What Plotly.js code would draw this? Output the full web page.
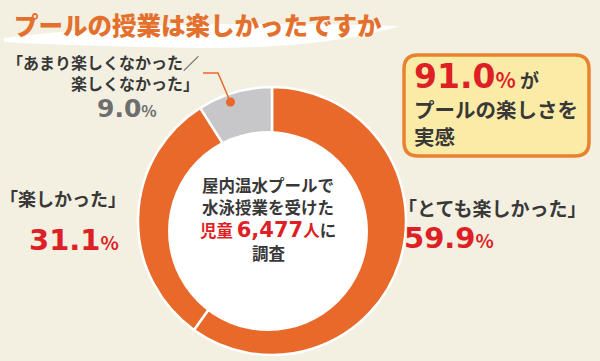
<!DOCTYPE html>
<html>
<head>
<meta charset="utf-8">
<script src="https://cdn.plot.ly/plotly-3.0.1.min.js"></script>
<style>html,body{margin:0;padding:0;background:#F3F0E1;}#chart{width:600px;height:361px;}</style>
</head>
<body>
<div id="chart"></div>
<script>
// ---- data ----
const titleText = 'プールの授業は楽しかったですか';
const labels = ['とても楽しかった', '楽しかった', 'あまり楽しくなかった／楽しくなかった'];
const values = [59.9, 31.1, 9.0];
const sliceColors = ['#E8692A', '#E8692A', '#C7C7C9'];
const positiveTotal = 91.0;
const respondents = '6,477';
const centerLines = ['屋内温水プールで', '水泳授業を受けた', '調査'];
const boxLines = ['プールの楽しさを', '実感'];

// ---- helpers (pixel -> paper) ----
const W = 600, H = 361;
const px = x => x / W;
const py = y => (H - y) / H;
const F = '"Noto Sans CJK JP", "Noto Sans", sans-serif';
const RED = '#DE1F26', DARK = '#383838', GRAY = '#6E6E6E', ORANGE = '#E4702E';

// pie geometry
const cx = 272, cy = 221, R = 134;
const trace = {
  type: 'pie',
  labels: labels,
  values: values,
  sort: false,
  direction: 'clockwise',
  rotation: 0,
  textinfo: 'none',
  hoverinfo: 'label+percent',
  marker: {colors: sliceColors, line: {color: '#FFFFFF', width: 2.5}},
  domain: {x: [px(cx - R), px(cx + R)], y: [py(cy + R), py(cy - R)]},
  showlegend: false
};

function ann(text, x, y, size, color, xanchor, family, weight, align) {
  return {text: text, x: px(x), y: py(y), xref: 'paper', yref: 'paper',
    xanchor: xanchor || 'left', yanchor: 'middle', showarrow: false, borderpad: 0,
    align: align || 'center',
    font: {family: family || F, size: size, color: color, weight: weight || 'normal'}};
}
function fmt(v) { return v.toFixed(1); }
function num(v, size, pctSize) {
  return '<b><span style="font-family:DejaVu Sans;font-size:' + size + 'px">' + fmt(v) +
    '</span><span style="font-size:' + pctSize + 'px">%</span></b>';
}

function P(x, y) { return px(x) + ',' + py(y); }
function roundRect(x0, y0, x1, y1, r) {
  return 'M' + P(x0 + r, y0) + ' L' + P(x1 - r, y0) + ' Q' + P(x1, y0) + ' ' + P(x1, y0 + r) +
    ' L' + P(x1, y1 - r) + ' Q' + P(x1, y1) + ' ' + P(x1 - r, y1) +
    ' L' + P(x0 + r, y1) + ' Q' + P(x0, y1) + ' ' + P(x0, y1 - r) +
    ' L' + P(x0, y0 + r) + ' Q' + P(x0, y0) + ' ' + P(x0 + r, y0) + ' Z';
}

const swoosh = 'M' + P(4, 38) + ' Q' + P(160, 18) + ' ' + P(400, 26) +
  ' Q' + P(330, 47) + ' ' + P(220, 48) + ' Q' + P(100, 47) + ' ' + P(4, 42) + ' Z';

const shapes = [
  {type: 'path', xref: 'paper', yref: 'paper', path: swoosh, fillcolor: '#FFFFFF', line: {width: 0}, layer: 'below'},
  // inner white disc (off-centre hole)
  {type: 'circle', xref: 'paper', yref: 'paper', x0: px(168), x1: px(368), y0: py(331), y1: py(131),
    fillcolor: '#FFFFFF', line: {width: 0}, layer: 'above'},
  // highlight box
  {type: 'path', xref: 'paper', yref: 'paper', path: roundRect(404, 55, 589, 156, 14),
    fillcolor: '#FAEBA6', line: {color: '#E8822E', width: 3.5}, layer: 'above'},
  // leader line
  {type: 'path', xref: 'paper', yref: 'paper', path: 'M' + P(203, 73) + ' L' + P(218, 73) + ' L' + P(230, 101),
    line: {color: '#E8692A', width: 1.5}, layer: 'above'},
  {type: 'circle', xref: 'paper', yref: 'paper', x0: px(226), x1: px(235), y0: py(106.5), y1: py(97.5),
    fillcolor: '#E8692A', line: {width: 0}, layer: 'above'}
];

const annotations = [
  ann(titleText, 13, 24, 24.5, ORANGE, 'left', F, 900),
  // gray slice label
  ann('<b>「あまり楽しくなかった／<br>楽しくなかった」</b>', 200, 73, 16, DARK, 'right', F, 'normal', 'right'),
  ann(num(values[2], 25, 16), 96, 108, 25, GRAY),
  // left label
  ann('<b>「' + labels[1] + '」</b>', -1, 198, 18, DARK),
  ann(num(values[1], 29, 19), 28, 240, 29, RED),
  // right label
  ann('<b>「' + labels[0] + '」</b>', 397, 207, 19, DARK),
  ann(num(values[0], 29, 19), 403, 238, 29, RED),
  // box
  ann('<b><span style="font-family:DejaVu Sans">' + fmt(positiveTotal) + '</span><span style="font-size:21px">%</span><span style="font-size:19px;fill:#383838"> が</span></b>', 413, 76, 33, RED),
  ann('<b>' + boxLines[0] + '<br>' + boxLines[1] + '</b>', 413, 122, 20.5, DARK, 'left', F, 'normal', 'left'),
  // centre
  ann('<b>' + centerLines[0] + '</b>', 268, 185, 16.5, DARK, 'center'),
  ann('<b>' + centerLines[1] + '</b>', 268, 207, 16.5, DARK, 'center'),
  ann('<b><span style="fill:' + RED + '">児童 </span><span style="font-family:DejaVu Sans;font-size:21px;fill:' + RED + '">' + respondents + '</span><span style="fill:' + RED + '">人</span>に</b>', 268, 230, 16.5, DARK, 'center'),
  ann('<b>' + centerLines[2] + '</b>', 269, 253, 16.5, DARK, 'center')
];

const layout = {
  width: W, height: H,
  margin: {l: 0, r: 0, t: 0, b: 0},
  paper_bgcolor: '#F3F0E1',
  plot_bgcolor: '#F3F0E1',
  showlegend: false,
  shapes: shapes,
  annotations: annotations
};

Plotly.newPlot('chart', [trace], layout, {displayModeBar: false, staticPlot: true});
</script>
</body>
</html>
